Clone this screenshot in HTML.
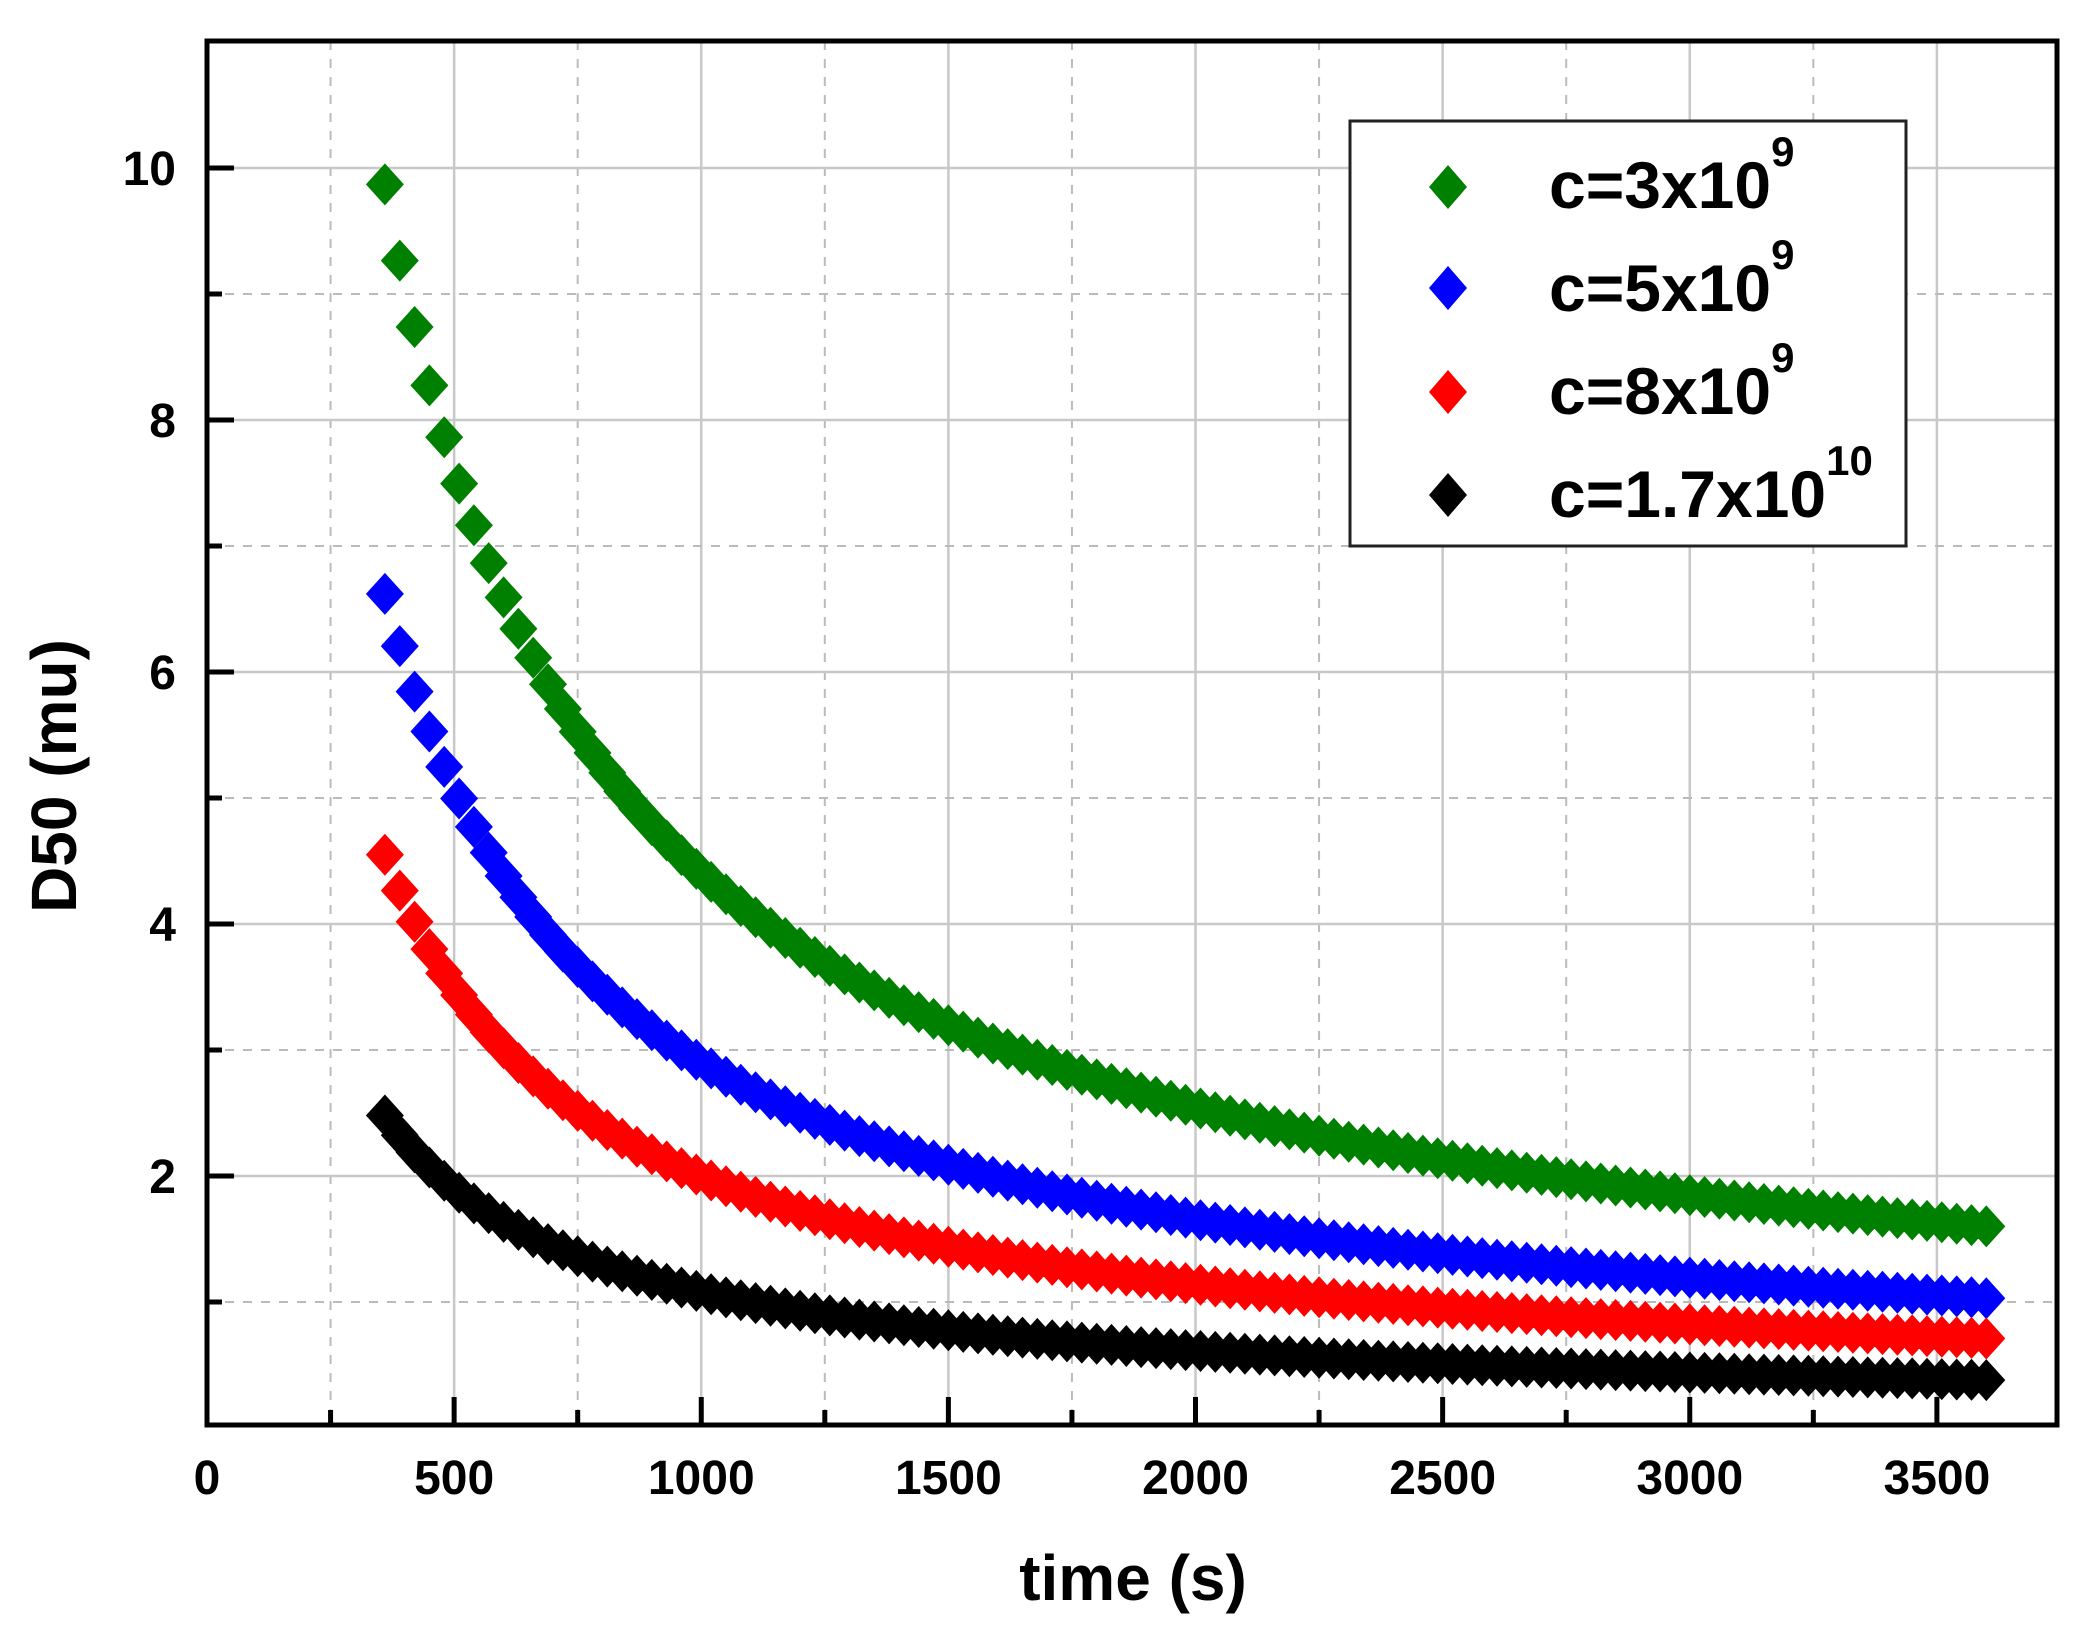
<!DOCTYPE html>
<html><head><meta charset="utf-8"><style>
html,body{margin:0;padding:0;background:#fff;}
svg{display:block;}
text{font-family:"Liberation Sans",Arial,sans-serif;font-weight:bold;fill:#000;}
</style></head><body>
<svg id="s" width="2084" height="1631" viewBox="0 0 2084 1631" xmlns="http://www.w3.org/2000/svg">
<rect width="2084" height="1631" fill="#fff"/>
<g id="grid"></g>
<g id="data"></g>
<g id="axes"></g>
<g id="legend">
<rect x="1350" y="121" width="556" height="425" fill="#fff" stroke="#222" stroke-width="3"/>
<path d="M1448 165 L1467 187 L1448 209 L1429 187 Z" fill="#008000"/>
<path d="M1448 266 L1467 288 L1448 310 L1429 288 Z" fill="#0000ff"/>
<path d="M1448 370 L1467 392 L1448 414 L1429 392 Z" fill="#ff0000"/>
<path d="M1448 473 L1467 495 L1448 517 L1429 495 Z" fill="#000"/>
<text x="1549" y="208" font-size="66">c=3x10<tspan font-size="42" dy="-42">9</tspan></text>
<text x="1549" y="311" font-size="66">c=5x10<tspan font-size="42" dy="-42">9</tspan></text>
<text x="1549" y="414" font-size="66">c=8x10<tspan font-size="42" dy="-42">9</tspan></text>
<text x="1549" y="517" font-size="66">c=1.7x10<tspan font-size="42" dy="-42">10</tspan></text>
</g>
<text x="1133" y="1600" font-size="64" text-anchor="middle">time (s)</text>
<text transform="translate(76,776) rotate(-90)" font-size="64" text-anchor="middle">D50 (mu)</text>
</svg>
<script>
var L=207,R=2057,T=41,B=1425;
function X(t){return L+(t)*(R-L)/3743;}
function Y(v){return 1428-v*126;}
var ns="http://www.w3.org/2000/svg";
function el(p,tag,a){var e=document.createElementNS(ns,tag);for(var k in a)e.setAttribute(k,a[k]);document.getElementById(p).appendChild(e);return e;}
// grid
for(var t=250;t<3743;t+=250){var maj=(t%500==0);el("grid","line",{x1:X(t),x2:X(t),y1:T,y2:B,stroke:maj?"#c8c8c8":"#bbb","stroke-width":maj?2.5:2,"stroke-dasharray":maj?"":"9,9"});}
for(var v=1;v<=11;v++){if(Y(v)<T+2)break;var maj=(v%2==0);el("grid","line",{x1:L,x2:R,y1:Y(v),y2:Y(v),stroke:maj?"#c8c8c8":"#bbb","stroke-width":maj?2.5:2,"stroke-dasharray":maj?"":"9,9"});}
// data
var ser=[["#008000",9.87,1.6],["#0000ff",6.62,1.03],["#ff0000",4.55,0.71],["#000",2.48,0.38]];
ser.forEach(function(s){var p=Math.log(s[1]/s[2])/Math.log(10);var d="";
for(var t=360;t<=3600.1;t+=30){var x=X(t),y=Y(s[1]*Math.pow(t/360,-p));d+="M"+x.toFixed(1)+" "+(y-21).toFixed(1)+"L"+(x+19).toFixed(1)+" "+y.toFixed(1)+"L"+x.toFixed(1)+" "+(y+21).toFixed(1)+"L"+(x-19).toFixed(1)+" "+y.toFixed(1)+"Z";}
el("data","path",{d:d,fill:s[0]});});
// axes
el("axes","rect",{x:L,y:T,width:R-L,height:B-T,fill:"none",stroke:"#000","stroke-width":5});
for(var t=250;t<3743;t+=250){var maj=(t%500==0);el("axes","line",{x1:X(t),x2:X(t),y1:B,y2:B-(maj?28:15),stroke:"#000","stroke-width":5});}
for(var v=1;v<=10;v++){var maj=(v%2==0);el("axes","line",{x1:L,x2:L+(maj?27:15),y1:Y(v),y2:Y(v),stroke:"#000","stroke-width":5});}
for(var t=0;t<=3500;t+=500){var e=el("axes","text",{x:X(t),y:1494,"font-size":48,"text-anchor":"middle"});e.textContent=t;}
for(var v=2;v<=10;v+=2){var e=el("axes","text",{x:176,y:Y(v)+17,"font-size":48,"text-anchor":"end"});e.textContent=v;}
</script>
</body></html>
